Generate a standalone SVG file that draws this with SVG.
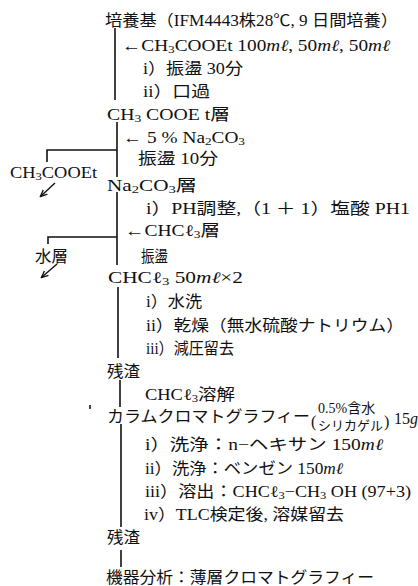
<svg xmlns="http://www.w3.org/2000/svg" width="418" height="586" viewBox="0 0 418 586">
<style>
.t{font-family:"Liberation Serif","Noto Sans CJK JP",serif;font-size:16px;fill:#111}
.s{font-size:11px}
.it{font-style:italic}
.ln{stroke:#111;stroke-width:1.6;fill:none}
.ar{stroke:#111;stroke-width:1.4;fill:none}
</style>
<defs>
<marker id="ah" markerWidth="8" markerHeight="8" refX="6" refY="4" orient="auto" markerUnits="userSpaceOnUse">
<path d="M0,1 L7,4 L0,7" fill="none" stroke="#111" stroke-width="1.3"/>
</marker>
</defs>
<g id="connectors">
<line class="ln" x1="115" y1="28" x2="115" y2="100"/>
<line class="ln" x1="117" y1="122" x2="117" y2="177"/>
<line class="ln" x1="117" y1="192" x2="117" y2="265"/>
<polyline class="ln" points="117,150 47,150 47,162"/>
<polyline class="ln" points="117,237 48,237 48,244"/>
<line class="ar" x1="55" y1="183" x2="41" y2="196" marker-end="url(#ah)"/>
<line class="ar" x1="57" y1="264" x2="42" y2="277" marker-end="url(#ah)"/>
<line class="ln" x1="118" y1="287" x2="118" y2="358"/>
<line class="ln" x1="120" y1="380" x2="120" y2="407"/>
<line class="ln" x1="121" y1="424" x2="121" y2="527"/>
<line class="ln" x1="121" y1="550" x2="121" y2="567"/>
<line class="ln" x1="90" y1="405" x2="90" y2="409" stroke-width="1.2"/>
</g>
<g id="n1"><text class="t" x="105" y="26" textLength="293" lengthAdjust="spacingAndGlyphs">培養基（IFM4443株28℃, 9 日間培養）</text></g>
<g id="n2"><text class="t" x="122" y="51" textLength="268" lengthAdjust="spacingAndGlyphs">←CH<tspan class="s" dy="2">3</tspan><tspan dy="-2">COOEt  100</tspan><tspan class="it">mℓ</tspan>, 50<tspan class="it">mℓ</tspan>, 50<tspan class="it">mℓ</tspan></text></g>
<g id="n3"><text class="t" x="143" y="74" textLength="100" lengthAdjust="spacingAndGlyphs">i）振盪  30分</text></g>
<g id="n4"><text class="t" x="143" y="97" textLength="67" lengthAdjust="spacingAndGlyphs">ii）口過</text></g>
<g id="n5"><text class="t" x="107" y="120" textLength="123" lengthAdjust="spacingAndGlyphs">CH<tspan class="s" dy="2">3</tspan><tspan dy="-2"> COOE t層</tspan></text></g>
<g id="n6"><text class="t" x="123" y="143" textLength="122" lengthAdjust="spacingAndGlyphs">← 5 % Na<tspan class="s" dy="2">2</tspan><tspan dy="-2">CO</tspan><tspan class="s" dy="2">3</tspan></text></g>
<g id="n7"><text class="t" x="138" y="164" textLength="80" lengthAdjust="spacingAndGlyphs">振盪  10分</text></g>
<g id="n8"><text class="t" x="10" y="178" textLength="87" lengthAdjust="spacingAndGlyphs">CH<tspan class="s" dy="2">3</tspan><tspan dy="-2">COOEt</tspan></text></g>
<g id="n9"><text class="t" x="107" y="191" textLength="90" lengthAdjust="spacingAndGlyphs">Na<tspan class="s" dy="2">2</tspan><tspan dy="-2">CO</tspan><tspan class="s" dy="2">3</tspan><tspan dy="-2">層</tspan></text></g>
<g id="n10"><text class="t" x="146" y="214" textLength="264" lengthAdjust="spacingAndGlyphs">i）PH調整,（1 ＋ 1）塩酸 PH1</text></g>
<g id="n11"><text class="t" x="125" y="236" textLength="95" lengthAdjust="spacingAndGlyphs">←CHCℓ<tspan class="s" dy="2">3</tspan><tspan dy="-2">層</tspan></text></g>
<g id="n12"><text class="t" x="35" y="262" textLength="33" lengthAdjust="spacingAndGlyphs">水層</text></g>
<g id="n13"><text class="t" x="141" y="262" textLength="27" lengthAdjust="spacingAndGlyphs">振盪</text></g>
<g id="n14"><text class="t" x="108" y="283" textLength="135" lengthAdjust="spacingAndGlyphs">CHCℓ<tspan class="s" dy="2">3</tspan><tspan dy="-2">  50</tspan><tspan class="it">mℓ</tspan>×2</text></g>
<g id="n15"><text class="t" x="146" y="307" textLength="56" lengthAdjust="spacingAndGlyphs">i）水洗</text></g>
<g id="n16"><text class="t" x="146" y="331" textLength="258" lengthAdjust="spacingAndGlyphs">ii）乾燥（無水硫酸ナトリウム）</text></g>
<g id="n17"><text class="t" x="146" y="354" textLength="88" lengthAdjust="spacingAndGlyphs">iii）減圧留去</text></g>
<g id="n18"><text class="t" x="107" y="377" textLength="33" lengthAdjust="spacingAndGlyphs">残渣</text></g>
<g id="n19"><text class="t" x="145" y="400" textLength="90" lengthAdjust="spacingAndGlyphs">CHCℓ<tspan class="s" dy="2">3</tspan><tspan dy="-2">溶解</tspan></text></g>
<g id="n20">
<text class="t" x="107" y="422" textLength="203" lengthAdjust="spacingAndGlyphs">カラムクロマトグラフィー</text>
<text class="t"><tspan x="311" y="427">(</tspan><tspan x="318" y="413" style="font-size:14px">0.5%含水</tspan><tspan x="318" y="430" style="font-size:13px">シリカゲル</tspan><tspan x="384" y="427">)</tspan><tspan x="394" y="424">15</tspan><tspan class="it">g</tspan></text>
</g>
<g id="n21"><text class="t" x="145" y="450" textLength="238" lengthAdjust="spacingAndGlyphs">i）洗浄：n−ヘキサン 150<tspan class="it">mℓ</tspan></text></g>
<g id="n22"><text class="t" x="145" y="474" textLength="198" lengthAdjust="spacingAndGlyphs">ii）洗浄：ベンゼン 150<tspan class="it">mℓ</tspan></text></g>
<g id="n23"><text class="t" x="145" y="497" textLength="266" lengthAdjust="spacingAndGlyphs">iii）溶出：CHCℓ<tspan class="s" dy="2">3</tspan><tspan dy="-2">−CH</tspan><tspan class="s" dy="2">3</tspan><tspan dy="-2"> OH (97+3)</tspan></text></g>
<g id="n24"><text class="t" x="144" y="520" textLength="200" lengthAdjust="spacingAndGlyphs">iv）TLC検定後, 溶媒留去</text></g>
<g id="n25"><text class="t" x="107" y="543" textLength="33" lengthAdjust="spacingAndGlyphs">残渣</text></g>
<g id="n26"><text class="t" x="106" y="583" textLength="268" lengthAdjust="spacingAndGlyphs">機器分析：薄層クロマトグラフィー</text></g>
</svg>
